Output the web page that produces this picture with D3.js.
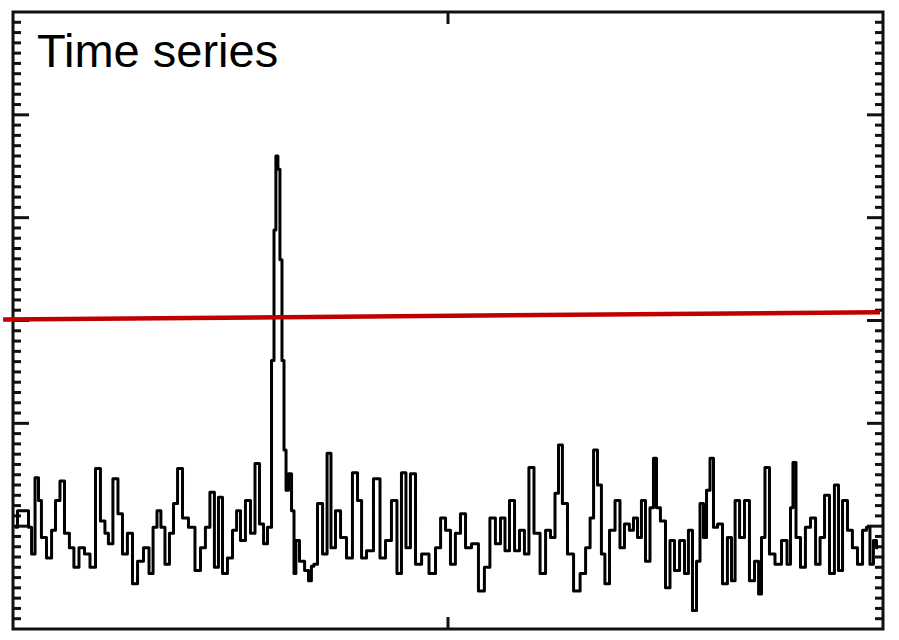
<!DOCTYPE html>
<html>
<head>
<meta charset="utf-8">
<script src="https://cdn.jsdelivr.net/npm/d3@7"></script>
<style>
  html, body { margin: 0; padding: 0; background: #fff; }
  svg { display: block; }
</style>
</head>
<body>
<svg id="chart" width="899" height="640"></svg>
<script>
// Sample times (s) of the recorded signal
const sampleTimes = [
  0.7, 2.4, 4.8, 5.9, 6.9, 8.3, 9.3, 10.3, 12.8, 13.8, 15.5, 16.9, 18.6, 20.3, 21.7, 23.8,
  25.5, 27.6, 29.3, 31.0, 32.4, 33.4, 35.5, 36.9, 38.6, 40.3, 42.1, 43.8, 46.2, 47.6, 49.0,
  50.3, 51.7, 53.1, 54.8, 55.9, 57.6, 59.3, 61.7, 63.8, 65.5, 67.2, 68.6, 70.3, 71.4, 73.1,
  74.8, 76.6, 77.6, 79.3, 81.0, 82.8, 84.1, 85.9, 86.9, 88.6, 89.7, 90.3, 91.0, 91.7, 92.4,
  93.1, 93.8, 94.5, 95.5, 96.6, 97.2, 97.9, 99.7, 101.4, 102.4, 103.4, 104.1, 105.9, 107.6,
  109.0, 110.3, 112.1, 113.8, 116.2, 117.9, 119.7, 120.7, 123.1, 125.5, 127.6, 129.3, 131.7,
  133.1, 134.8, 136.2, 137.9, 139.7, 142.1, 144.8, 146.6, 148.3, 150.0, 151.7, 153.4, 155.2,
  156.9, 159.3, 161.7, 163.4, 165.5, 167.2, 169.0, 170.3, 172.1, 173.8, 175.5, 177.2, 178.6,
  180.7, 182.8, 184.5, 186.2, 187.6, 188.6, 190.3, 192.1, 194.5, 196.6, 198.3, 199.7, 200.7,
  202.4, 203.4, 204.8, 206.6, 208.6, 210.0, 211.7, 213.4, 214.5, 216.2, 217.2, 219.0, 220.3,
  221.4, 222.4, 224.1, 225.9, 227.2, 229.0, 230.7, 232.4, 233.4, 235.2, 236.2, 237.6, 238.6,
  239.7, 241.0, 242.1, 243.8, 245.5, 247.2, 248.3, 249.7, 251.4, 253.1, 254.8, 256.6, 257.6,
  258.6, 260.0, 261.7, 263.8, 266.2, 267.6, 268.6, 269.3, 270.7, 272.4, 274.1, 275.9, 277.6,
  279.0, 280.7, 282.4, 284.1, 285.2, 286.9, 288.6, 290.3, 292.1, 293.8, 294.8, 296.2, 297.2,
  298.3
];

// Signal amplitude at each sample time
const amplitudes = [
  9.9, 11.5, 11.5, 9.9, 7.3, 14.7, 12.5, 8.9, 6.9, 9.6, 12.5, 14.4, 9.3, 7.9, 6.0, 7.9,
  7.3, 6.0, 15.6, 10.5, 9.3, 8.3, 14.6, 11.2, 7.3, 9.3, 4.4, 6.6, 7.9, 5.4, 9.9,
  11.5, 9.9, 6.3, 9.3, 12.2, 15.6, 10.8, 9.9, 5.7, 7.9, 9.9, 13.3, 6.0, 12.8, 5.4,
  6.9, 9.6, 11.5, 8.6, 12.5, 9.3, 16.1, 10.2, 8.3, 9.9, 26.1, 38.8, 46.0, 44.7, 35.9,
  26.1, 17.4, 13.5, 15.1, 11.5, 5.4, 8.6, 6.6, 5.7, 4.7, 6.1, 6.3, 12.2, 7.3,
  17.1, 7.9, 11.5, 8.9, 6.9, 15.2, 12.5, 6.9, 7.6, 14.6, 6.9, 8.6, 12.5,
  5.4, 15.2, 7.9, 15.1, 6.3, 7.3, 5.4, 7.9, 10.8, 9.6, 6.3, 9.3, 11.2,
  7.9, 8.3, 3.7, 6.0, 10.8, 8.3, 10.8, 7.6, 12.5, 7.6, 9.6, 7.3, 15.7,
  9.3, 5.4, 9.6, 8.9, 13.2, 17.9, 12.2, 7.3, 3.7, 5.4, 7.9, 10.8, 17.4,
  14.0, 7.3, 4.4, 9.6, 12.5, 7.9, 10.2, 9.6, 10.8, 8.9, 12.5, 6.6, 11.8,
  16.6, 11.8, 10.5, 4.0, 8.6, 5.7, 8.6, 5.4, 9.6, 1.8, 6.6, 12.2, 8.9,
  13.5, 16.6, 9.9, 10.2, 4.4, 8.9, 4.7, 12.5, 8.9, 12.5, 4.7, 6.6, 3.4,
  8.9, 15.7, 7.3, 6.3, 8.6, 6.3, 11.8, 16.2, 8.9, 6.0, 9.9, 10.8, 6.3,
  8.9, 13.0, 5.4, 14.0, 5.7, 12.5, 9.6, 7.9, 6.3, 9.6, 9.9, 6.3, 8.6,
  7.9
];

// Detection threshold, drawn between two (time, amplitude) end points
const thresholdTimes = [-3.4, 299.0];
const thresholdLevels = [30.1, 30.8];

// Axis domains and tick positions
const timeDomain = [0, 300];
const timeTicks = [150];
const ampDomain = [0, 60];
const ampMajorTicks = [10, 20, 30, 40, 50];
const ampMinorTicks = d3.range(1, 60);

const titleText = "Time series";

const frame = { left: 13, right: 883, top: 12, bottom: 629 };

const svg = d3.select("#chart");

const x = d3.scaleLinear().domain(timeDomain).range([frame.left, frame.right]);
const y = d3.scaleLinear().domain(ampDomain).range([frame.bottom, frame.top]);

const tickColor = "#111";

// Minor and major ticks on the left and right edges, pointing inwards
function edgeTicks(side) {
  const g = svg.append("g");
  const xPos = side === "left" ? frame.left : frame.right;
  const dir = side === "left" ? 1 : -1;
  g.selectAll("line.minor")
    .data(ampMinorTicks.filter(v => !ampMajorTicks.includes(v)))
    .join("line")
    .attr("x1", xPos).attr("x2", xPos + dir * 8)
    .attr("y1", d => y(d)).attr("y2", d => y(d))
    .attr("stroke", tickColor).attr("stroke-width", 3);
  g.selectAll("line.major")
    .data(ampMajorTicks)
    .join("line")
    .attr("x1", xPos).attr("x2", xPos + dir * 16)
    .attr("y1", d => y(d)).attr("y2", d => y(d))
    .attr("stroke", tickColor).attr("stroke-width", 3);
}
edgeTicks("left");
edgeTicks("right");

// Ticks on the top and bottom edges
svg.append("g").selectAll("line")
  .data(timeTicks)
  .join("line")
  .attr("x1", d => x(d)).attr("x2", d => x(d))
  .attr("y1", frame.top).attr("y2", frame.top + 12)
  .attr("stroke", tickColor).attr("stroke-width", 3);
svg.append("g").selectAll("line")
  .data(timeTicks)
  .join("line")
  .attr("x1", d => x(d)).attr("x2", d => x(d))
  .attr("y1", frame.bottom).attr("y2", frame.bottom - 12)
  .attr("stroke", tickColor).attr("stroke-width", 3);

// Plot frame
svg.append("rect")
  .attr("x", frame.left).attr("y", frame.top)
  .attr("width", frame.right - frame.left)
  .attr("height", frame.bottom - frame.top)
  .attr("fill", "none")
  .attr("stroke", "#111")
  .attr("stroke-width", 3);

// Signal trace, drawn as a stepped line
const series = sampleTimes.map((t, i) => ({ t, v: amplitudes[i] }));
const line = d3.line()
  .x(d => x(d.t))
  .y(d => y(d.v))
  .curve(d3.curveStep);

svg.append("path")
  .datum(series)
  .attr("d", line)
  .attr("fill", "none")
  .attr("stroke", "#000")
  .attr("stroke-width", 3)
  .attr("stroke-linejoin", "round");

// Threshold line
const threshold = thresholdTimes.map((t, i) => ({ t, v: thresholdLevels[i] }));
svg.append("path")
  .datum(threshold)
  .attr("d", d3.line().x(d => x(d.t)).y(d => y(d.v)))
  .attr("fill", "none")
  .attr("stroke", "#c00000")
  .attr("stroke-width", 4.5);

// Title
svg.append("text")
  .attr("x", 37)
  .attr("y", 67)
  .attr("font-family", "Liberation Sans, Arial, sans-serif")
  .attr("font-size", 47)
  .attr("fill", "#000")
  .text(titleText);
</script>
</body>
</html>
